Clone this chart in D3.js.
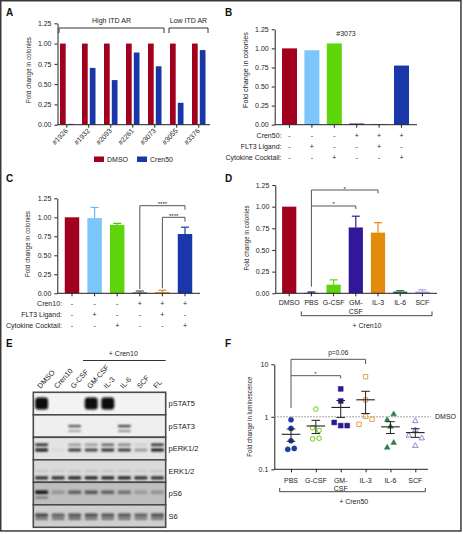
<!DOCTYPE html>
<html><head><meta charset="utf-8">
<script src="https://cdn.jsdelivr.net/npm/d3@7"></script>
<style>
html,body{margin:0;padding:0;background:#fff;}
svg{display:block;font-family:"Liberation Sans",Arial,Helvetica,sans-serif;}
</style></head><body>
<svg id="fig" width="463" height="534"></svg>
<script>
// ---------------- DATA ----------------
// Panel A
const aSamples = ["#1926","#1932","#2093","#2261","#3073","#3055","#3376"];
const aSeries = ["DMSO","Cren50"];
const aDMSO = [1,1,1,1,1,1,1];
const aCren50 = [0.01,0.70,0.55,0.89,0.72,0.27,0.92];
const aGroupLabels = ["High ITD AR","Low ITD AR"];
const aGroupFrom = ["#1926","#3055"];
const aGroupTo = ["#3073","#3376"];
const linTicks = [0,0.25,0.5,0.75,1.0,1.25];
// Panel B
const bConds = ["b1","b2","b3","b4","b5","b6"];
const bValues = [1.0,0.975,1.065,0.015,0.01,0.775];
const bRowLabels = ["Cren50:","FLT3 Ligand:","Cytokine Cocktail:"];
const bRows = [["-","-","-","+","+","+"],["-","+","-","-","+","-"],["-","-","+","-","-","+"]];
const bTitle = "#3073";
// Panel C
const cConds = ["c1","c2","c3","c4","c5","c6"];
const cValues = [1.0,0.99,0.90,0.01,0.015,0.78];
const cSem = [0,0.14,0.02,0.02,0.025,0.09];
const cRowLabels = ["Cren10:","FLT3 Ligand:","Cytokine Cocktail:"];
const cRows = [["-","-","-","+","+","+"],["-","+","-","-","+","-"],["-","-","+","-","-","+"]];
// Panel D
const dCats = ["DMSO","PBS","G-CSF","GM-CSF","IL-3","IL-6","SCF"];
const dValues = [1.0,0.005,0.10,0.76,0.70,0.02,0.02];
const dSem = [0,0.01,0.055,0.13,0.115,0.01,0.02];
// Panel E
const eLanes = ["DMSO","Cren10","G-CSF","GM-CSF","IL-3","IL-6","SCF","FL"];
const eRows = ["pSTAT5","pSTAT3","pERK1/2","ERK1/2","pS6","S6"];
const ePSTAT5 = [[1,0,0,1,1,0,0,0]];
const ePSTAT3 = [[0,0,0.7,0,0,0.8,0,0],[0,0,0.35,0,0,0.45,0,0]];
const ePERK = [[0.9,0,0.35,0.35,0.6,0.45,0.1,0.85],[1,0.05,0.8,0.75,0.85,0.8,0.35,0.95]];
const eERK = [[0.15,0.1,0.15,0.15,0.15,0.15,0.1,0.15],[0.85,0.85,0.9,0.9,0.9,0.9,0.85,0.85]];
const ePS6 = [[1,0.25,0.55,0.6,0.55,0.45,0.2,0.25],[0.5,0,0,0,0,0,0,0]];
const eS6 = [[0.75,0.6,0.65,0.7,0.65,0.65,0.6,0.7],[0.5,0.5,0.55,0.5,0.5,0.5,0.45,0.5]];
// Panel F
const fCats = ["PBS","G-CSF","GM-CSF","IL-3","IL-6","SCF"];
const fPBS = [0.88,0.60,0.35,0.24,0.25];
const fGCSF = [1.40,0.62,0.55,0.38,0.39];
const fGMCSF = [3.40,2.00,0.78,0.68,0.68];
const fIL3 = [5.80,2.10,0.72,1.02,0.90];
const fIL6 = [0.87,1.12,0.65,0.26,0.32];
const fSCF = [0.83,0.44,0.56,0.39,0.28];
const fTicks = [0.1,1,10];

// ---------------- STYLE ----------------
const RED="#a1001e", LBLUE="#7cc6fb", GREEN="#5ed40a", NAVY="#17175e", ORANGE="#e38b0a", BLUE="#1a37aa";
const PURPLE="#33179a", DGREEN="#2e6b3e", LAV="#aaa3ea";
const INK="#222";
const svg=d3.select("#fig");
const defs=svg.append("defs");
defs.append("filter").attr("id","blur").attr("x","-30%").attr("y","-80%").attr("width","160%").attr("height","260%")
  .append("feGaussianBlur").attr("stdDeviation",0.8);

function line(g,x1,y1,x2,y2,stroke=INK,w=1,dash=null){
  const l=g.append("line").attr("x1",x1).attr("y1",y1).attr("x2",x2).attr("y2",y2).attr("stroke",stroke).attr("stroke-width",w);
  if(dash) l.attr("stroke-dasharray",dash); return l;
}
function path(g,pts,stroke="#444",w=1){
  return g.append("path").attr("d",d3.line()(pts)).attr("fill","none").attr("stroke",stroke).attr("stroke-width",w);
}
function txt(g,x,y,s,o={}){
  const t=g.append("text").attr("x",x).attr("y",y).text(s).attr("font-size",o.size||7)
    .attr("fill",o.fill||INK).attr("text-anchor",o.anchor||"start");
  if(o.weight) t.attr("font-weight",o.weight);
  if(o.rotate!=null) t.attr("transform",`rotate(${o.rotate},${x},${y})`);
  if(o.len) t.attr("textLength",o.len).attr("lengthAdjust","spacingAndGlyphs");
  return t;
}
function yAxis(g,scale,x,ticks,fmt){
  const ax=d3.axisLeft(scale).tickValues(ticks).tickFormat(fmt).tickSize(3).tickSizeOuter(0).tickPadding(3);
  const gg=g.append("g").attr("transform",`translate(${x},0)`).call(ax);
  gg.attr("font-family",null).attr("font-size",7);
  gg.selectAll("text").attr("fill",INK);
  gg.selectAll("line,path").attr("stroke",INK);
  return gg;
}
function xTicks(g,scale,y,x0,x1){
  line(g,x0,y,x1,y);
  const ax=d3.axisBottom(scale).tickSize(3).tickFormat("").tickSizeOuter(0);
  const gg=g.append("g").attr("transform",`translate(0,${y})`).call(ax);
  gg.select(".domain").remove();
  gg.selectAll("line").attr("stroke",INK);
  return gg;
}
const f2=d3.format(".2f");

// frame
svg.append("rect").attr("x",0.75).attr("y",0.75).attr("width",460.2).attr("height",530.2)
  .attr("fill","none").attr("stroke","#3a3a3a").attr("stroke-width",1.5);

// panel letters
[["A",6,16],["B",225,16],["C",6,182],["D",225,182],["E",6,347],["F",225,347]].forEach(p=>
  txt(svg,p[1],p[2],p[0],{size:10,weight:"bold",fill:"#111"}));

// ================= PANEL A =================
{
  const g=svg.append("g");
  const y=d3.scaleLinear([0,1.25],[124.7,23.3]);
  const x=d3.scaleBand(aSamples,[56,210]);
  const xi=d3.scaleBand(aSeries,[4,17.5]).paddingInner(0.27);
  const cols=[RED,BLUE];
  [aDMSO,aCren50].forEach((vals,si)=>{
    g.selectAll(null).data(aSamples).join("rect")
      .attr("x",d=>x(d)+xi(aSeries[si])).attr("width",xi.bandwidth())
      .attr("y",(d,i)=>y(vals[i])).attr("height",(d,i)=>y(0)-y(vals[i])).attr("fill",cols[si]);
  });
  yAxis(g,y,57.5,linTicks,f2);
  line(g,57.5,y(0),210,y(0));
  aSamples.forEach(d=>{
    const cx=x(d)+10.75;
    line(g,cx,y(0),cx,y(0)+3);
    txt(g,cx+1.5,131,d,{anchor:"end",rotate:-48});
  });
  txt(g,31,70,"Fold change in colonies",{anchor:"middle",rotate:-90,len:66,size:7});
  aGroupLabels.forEach((lab,i)=>{
    const x0=x(aGroupFrom[i])+3, x1=x(aGroupTo[i])+x.bandwidth()-2;
    path(g,[[x0,33],[x0,28],[x1,28],[x1,33]],"#333",1);
    txt(g,(x0+x1)/2,23,lab,{anchor:"middle"});
  });
  // legend
  const lg=[["DMSO",RED,94],["Cren50",BLUE,137]];
  lg.forEach(l=>{
    g.append("rect").attr("x",l[2]).attr("y",156.5).attr("width",10).attr("height",5.5).attr("fill",l[1]);
    txt(g,l[2]+13,162,l[0]);
  });
}

// ================= PANEL B =================
{
  const g=svg.append("g");
  const y=d3.scaleLinear([0,1.25],[124.7,29.3]);
  const x=d3.scaleBand(bConds,[278.3,412.7]).paddingInner(0.33).paddingOuter(0.165);
  const cols=[RED,LBLUE,GREEN,NAVY,ORANGE,BLUE];
  g.selectAll(null).data(bConds).join("rect")
    .attr("x",d=>x(d)).attr("width",x.bandwidth())
    .attr("y",(d,i)=>y(bValues[i])).attr("height",(d,i)=>y(0)-y(bValues[i])).attr("fill",(d,i)=>cols[i]);
  yAxis(g,y,274.7,linTicks,f2);
  xTicks(g,x,y(0),274.7,417);
  txt(g,247.5,70,"Fold change in colonies",{anchor:"middle",rotate:-90,len:76});
  txt(g,346,35.5,bTitle,{anchor:"middle"});
  bRowLabels.forEach((lab,r)=>{
    const yy=137.5+r*11;
    txt(g,281.5,yy,lab,{anchor:"end"});
    bConds.forEach((c,i)=>txt(g,x(c)+x.bandwidth()/2,yy,bRows[r][i],{anchor:"middle"}));
  });
}

// ================= PANEL C =================
{
  const g=svg.append("g");
  const y=d3.scaleLinear([0,1.25],[293.3,198.3]);
  const x=d3.scaleBand(cConds,[60.7,196.3]).paddingInner(0.36).paddingOuter(0.18);
  const cols=[RED,LBLUE,GREEN,NAVY,ORANGE,BLUE];
  const ecols=[RED,"#6fb8ee","#55c008","#555","#d08a30",BLUE];
  g.selectAll(null).data(cConds).join("rect")
    .attr("x",d=>x(d)).attr("width",x.bandwidth())
    .attr("y",(d,i)=>y(cValues[i])).attr("height",(d,i)=>y(0)-y(cValues[i])).attr("fill",(d,i)=>cols[i]);
  cConds.forEach((c,i)=>{
    if(!cSem[i]) return;
    const cx=x(c)+x.bandwidth()/2, top=y(cValues[i]+cSem[i]);
    line(g,cx,y(cValues[i]),cx,top,ecols[i],1.2);
    line(g,cx-4,top,cx+4,top,ecols[i],1.2);
  });
  yAxis(g,y,57.3,linTicks,f2);
  xTicks(g,x,y(0),57.3,200);
  txt(g,29.5,244,"Fold change in colonies",{anchor:"middle",rotate:-90,len:66});
  cRowLabels.forEach((lab,r)=>{
    const yy=306+r*11;
    txt(g,62,yy,lab,{anchor:"end"});
    cConds.forEach((c,i)=>txt(g,x(c)+x.bandwidth()/2,yy,cRows[r][i],{anchor:"middle"}));
  });
  // significance
  const cx=i=>x(cConds[i])+x.bandwidth()/2;
  path(g,[[cx(3),y(cValues[3]+cSem[3])-2],[cx(3),205.7],[cx(5),205.7],[cx(5),209.7]],"#555",1);
  txt(g,(cx(3)+cx(5))/2,206,"****",{anchor:"middle",size:6});
  path(g,[[cx(4),y(cValues[4]+cSem[4])-2],[cx(4),217.3],[cx(5),217.3],[cx(5),221.7]],"#555",1);
  txt(g,(cx(4)+cx(5))/2,217.6,"****",{anchor:"middle",size:6});
}

// ================= PANEL D =================
{
  const g=svg.append("g");
  const y=d3.scaleLinear([0,1.25],[293.3,185]);
  const x=d3.scaleBand(dCats,[278.1,433.5]).paddingInner(0.36).paddingOuter(0.18);
  const cols=[RED,NAVY,GREEN,PURPLE,ORANGE,DGREEN,LAV];
  g.selectAll(null).data(dCats).join("rect")
    .attr("x",d=>x(d)).attr("width",x.bandwidth())
    .attr("y",(d,i)=>y(dValues[i])).attr("height",(d,i)=>y(0)-y(dValues[i])).attr("fill",(d,i)=>cols[i]);
  dCats.forEach((c,i)=>{
    if(!dSem[i]) return;
    const cx=x(c)+x.bandwidth()/2, top=y(dValues[i]+dSem[i]);
    line(g,cx,y(dValues[i]),cx,top,cols[i],1.2);
    line(g,cx-4,top,cx+4,top,cols[i],1.2);
  });
  yAxis(g,y,275.3,linTicks,f2);
  xTicks(g,x,y(0),275.3,437);
  txt(g,248.5,238,"Fold change in colonies",{anchor:"middle",rotate:-90,len:65});
  const cx=c=>x(c)+x.bandwidth()/2;
  dCats.forEach(c=>{
    const parts=c==="GM-CSF"?["GM-","CSF"]:[c];
    parts.forEach((p,k)=>txt(g,cx(c),305+k*9.3,p,{anchor:"middle"}));
  });
  path(g,[[301.3,311.5],[301.3,315.7],[432,315.7],[432,311.5]],"#444",1);
  txt(g,367,327.5,"+ Cren10",{anchor:"middle"});
  // significance
  path(g,[[cx("PBS"),286.7],[cx("PBS"),190],[cx("IL-3"),190],[cx("IL-3"),193.3]],"#555",1);
  txt(g,344.7,190.5,"*",{anchor:"middle",size:6});
  path(g,[[cx("PBS"),206],[cx("GM-CSF"),206],[cx("GM-CSF"),209]],"#555",1);
  txt(g,333.7,206.3,"*",{anchor:"middle",size:6});
}

// ================= PANEL E =================
{
  const g=svg.append("g");
  const x=d3.scaleBand(eLanes,[33.3,165.7]);
  const y=d3.scaleBand(eRows,[392.3,527.3]);
  const bg={"pSTAT5":"#f3f3f3","pSTAT3":"#efefef","pERK1/2":"#e4e4e4","ERK1/2":"#dadada","pS6":"#bebebe","S6":"#cfcfcf"};
  const bandData={"pSTAT5":ePSTAT5,"pSTAT3":ePSTAT3,"pERK1/2":ePERK,"ERK1/2":eERK,"pS6":ePS6,"S6":eS6};
  const bandPos={"pSTAT5":[[0.5,12]],"pSTAT3":[[0.5,2.2],[0.72,2]],"pERK1/2":[[0.33,2.6],[0.56,3]],
                 "ERK1/2":[[0.5,1.6],[0.8,3.2]],"pS6":[[0.44,3.4],[0.68,1.8]],"S6":[[0.46,3.2],[0.62,2.6]]};
  eRows.forEach(r=>{
    const y0=y(r), h=y.bandwidth();
    g.append("rect").attr("x",33.3).attr("y",y0).attr("width",132.4).attr("height",h).attr("fill",bg[r]);
    const bands=g.append("g").attr("filter","url(#blur)");
    bandData[r].forEach((arr,k)=>{
      const [fr,th]=bandPos[r][k];
      bands.selectAll(null).data(eLanes).join("rect")
        .attr("x",d=>x(d)+1.8).attr("width",x.bandwidth()-3.6)
        .attr("y",y0+fr*h-th/2).attr("height",th).attr("rx",th>6?3:1)
        .attr("fill",(d,i)=>d3.interpolateRgb(bg[r],"#0c0c0c")(arr[i]))
        .attr("opacity",(d,i)=>arr[i]>0?1:0);
    });
    g.append("rect").attr("x",33.3).attr("y",y0).attr("width",132.4).attr("height",h)
      .attr("fill","none").attr("stroke","#4a4a4a").attr("stroke-width",1.6);
    txt(g,168.5,y0+h/2+2.5,r,{size:7.5});
  });
  eLanes.forEach(l=>txt(g,x(l)+x.bandwidth()/2-1,389,l,{rotate:-48,size:7.3}));
  txt(g,123.3,356,"+ Cren10",{anchor:"middle"});
  line(g,83,360.5,165.7,360.5,"#333",1);
}

// ================= PANEL F =================
{
  const g=svg.append("g");
  const y=d3.scaleLog([0.1,10],[469.3,364.3]);
  const x=d3.scalePoint(fCats,[291,415.3]);
  const series=[fPBS,fGCSF,fGMCSF,fIL3,fIL6,fSCF];
  const cols=["#1f3da0",GREEN,"#2c1890","#e4a04a","#2e7d4a","#8f86e0"];
  const sym=[d3.symbolCircle,d3.symbolCircle,d3.symbolSquare,d3.symbolSquare,d3.symbolTriangle,d3.symbolTriangle];
  const filled=[true,false,true,false,true,false];
  const sizes=[21,16,24,19,14,13];
  yAxis(g,y,274.3,fTicks,d3.format("~g"));
  xTicks(g,x,469.3,274.3,428);
  // DMSO reference
  line(g,274.3,y(1),431,y(1),"#888",1,"1.5,1.5");
  txt(g,435,y(1)+2.5,"DMSO");
  txt(g,252.5,416.7,"Fold change in luminescence",{anchor:"middle",rotate:-90,len:80});
  series.forEach((vals,ci)=>{
    const cx=x(fCats[ci]);
    // simple collision layout: cluster close points, spread in data order
    const idx=vals.map((v,i)=>i).sort((a,b)=>y(vals[a])-y(vals[b]));
    const off=new Array(vals.length).fill(0);
    let cl=[idx[0]];
    const flush=()=>{const m=cl.slice().sort((a,b)=>a-b);m.forEach((k,j)=>off[k]=(j-(m.length-1)/2)*6.5);};
    for(let j=1;j<idx.length;j++){
      if(y(vals[idx[j]])-y(vals[idx[j-1]])<6) cl.push(idx[j]); else {flush();cl=[idx[j]];}
    }
    flush();
    g.selectAll(null).data(vals).join("path")
      .attr("d",d3.symbol(sym[ci],sizes[ci]))
      .attr("transform",(d,i)=>`translate(${cx+off[i]},${y(d)})`)
      .attr("fill",filled[ci]?cols[ci]:"none").attr("stroke",cols[ci]).attr("stroke-width",filled[ci]?0.5:1);
    const m=d3.mean(vals), se=d3.deviation(vals)/Math.sqrt(vals.length);
    line(g,cx-9.3,y(m),cx+9.3,y(m),INK,1.1);
    line(g,cx,y(m+se),cx,y(m-se),INK,1);
    line(g,cx-4.3,y(m+se),cx+4.3,y(m+se),INK,1);
    line(g,cx-4.3,y(m-se),cx+4.3,y(m-se),INK,1);
    const parts=fCats[ci]==="GM-CSF"?["GM-","CSF"]:[fCats[ci]];
    parts.forEach((p,k)=>txt(g,cx,482.5+k*8.5,p,{anchor:"middle"}));
  });
  path(g,[[279.7,488],[279.7,491.7],[425.3,491.7],[425.3,488]],"#444",1);
  txt(g,353.7,504,"+ Cren50",{anchor:"middle"});
  // significance
  path(g,[[x("PBS"),408],[x("PBS"),359.3],[x("IL-3"),359.3],[x("IL-3"),364]],"#555",1);
  txt(g,(x("PBS")+x("IL-3"))/2+10,355,"p=0.06",{anchor:"middle",size:6.5});
  path(g,[[x("PBS"),375.7],[x("GM-CSF"),375.7],[x("GM-CSF"),378.5]],"#555",1);
  txt(g,315.3,375.5,"*",{anchor:"middle",size:6});
}
</script>
</body></html>
